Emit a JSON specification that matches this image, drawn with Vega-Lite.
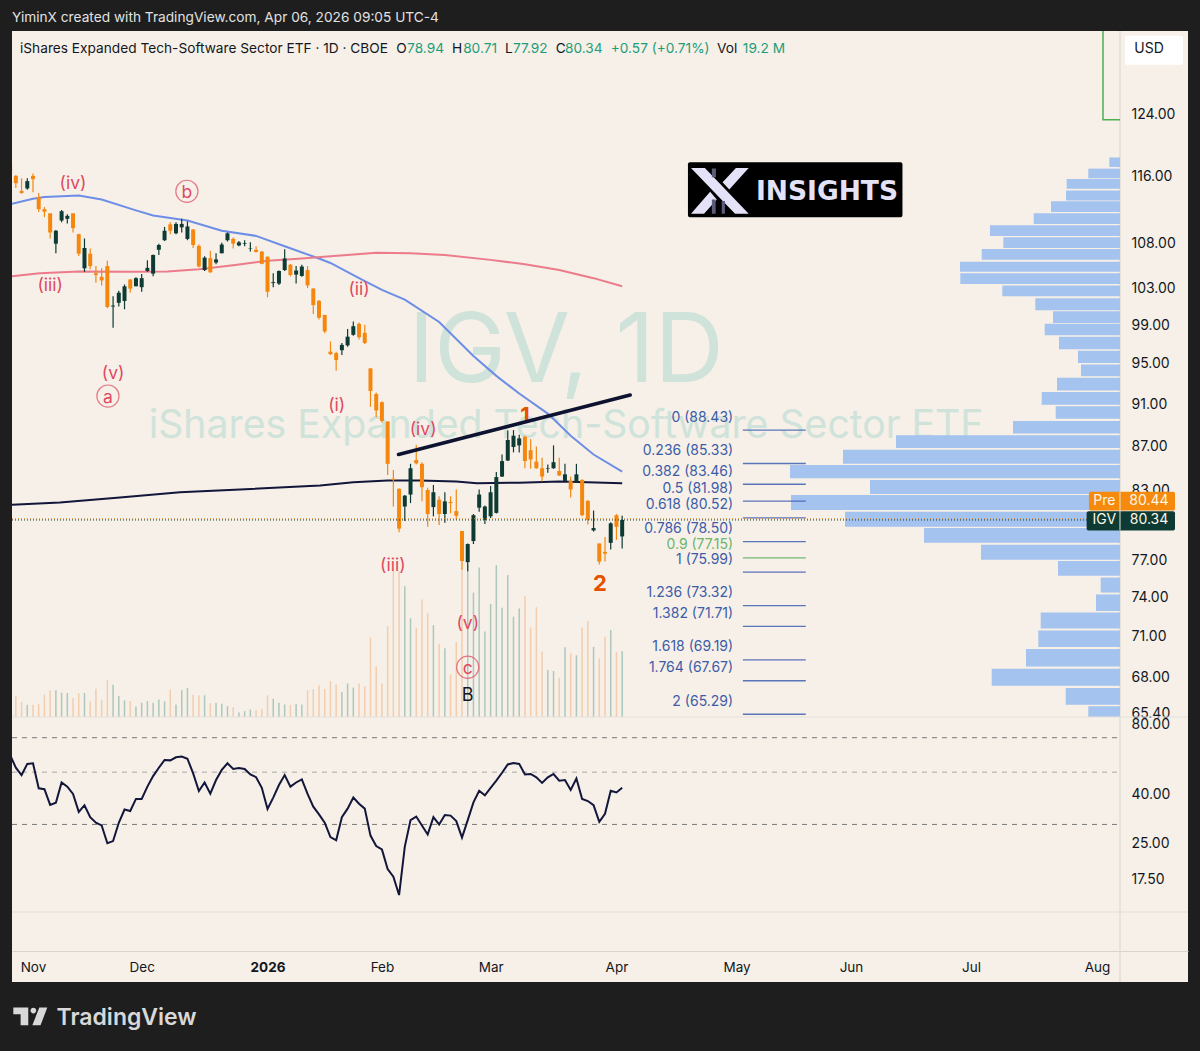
{
  "$schema": "https://vega.github.io/schema/vega-lite/v6.json",
  "description": "IGV daily chart with wave counts, fib levels, volume profile and RSI",
  "width": 1176,
  "height": 951,
  "autosize": {"type": "none"},
  "padding": {"left": 12, "top": 31, "right": 12, "bottom": 69},
  "background": "#1e1e1e",
  "view": {"fill": "#f6f0e8", "stroke": null},
  "title": {"text": "YiminX created with TradingView.com, Apr 06, 2026 09:05 UTC-4", "anchor": "start", "frame": "group", "offset": 6, "color": "#e2e2e2", "font": "Inter", "fontSize": 13.7, "fontWeight": 400},
  "datasets": {
    "bars": [
      {"bar":-4,"open":117.4,"high":117.5,"low":116.4,"close":116.5,"vol":5,"rsi":59.1},
      {"bar":-3,"open":116.0,"high":116.1,"low":114.5,"close":115.1,"vol":6.2,"rsi":52.2},
      {"bar":-2,"open":114.15,"high":115.7,"low":113.8,"close":113.9,"vol":4.4,"rsi":48.6},
      {"bar":-1,"open":114.45,"high":115.7,"low":114.3,"close":115.35,"vol":3.6,"rsi":54.2},
      {"bar":0,"open":116.0,"high":116.3,"low":114.0,"close":115.6,"vol":3.6,"rsi":54.5},
      {"bar":1,"open":113.4,"high":113.9,"low":111.6,"close":111.95,"vol":3.9,"rsi":42.7},
      {"bar":2,"open":111.95,"high":112.2,"low":111.0,"close":111.65,"vol":6.6,"rsi":42.3},
      {"bar":3,"open":111.45,"high":111.45,"low":108.5,"close":109.2,"vol":7.8,"rsi":36.3},
      {"bar":4,"open":107.9,"high":109.5,"low":106.8,"close":109.4,"vol":7.9,"rsi":37.1},
      {"bar":5,"open":110.6,"high":111.85,"low":110.4,"close":111.7,"vol":7.2,"rsi":45.2},
      {"bar":6,"open":110.8,"high":111.35,"low":110.25,"close":111.15,"vol":7.1,"rsi":43.4},
      {"bar":7,"open":111.45,"high":111.45,"low":109.2,"close":109.7,"vol":5.6,"rsi":40.4},
      {"bar":8,"open":109.0,"high":109.05,"low":106.5,"close":106.75,"vol":7,"rsi":33.9},
      {"bar":9,"open":105.1,"high":108.5,"low":104.7,"close":107.4,"vol":7.1,"rsi":36.2},
      {"bar":10,"open":106.75,"high":107.35,"low":105.0,"close":105.35,"vol":4.6,"rsi":32.2},
      {"bar":11,"open":104.55,"high":105.35,"low":103.5,"close":104.35,"vol":8.3,"rsi":30.5},
      {"bar":12,"open":104.15,"high":105.1,"low":103.2,"close":103.75,"vol":5.1,"rsi":29.7},
      {"bar":13,"open":105.35,"high":105.95,"low":100.7,"close":100.85,"vol":11,"rsi":24.95},
      {"bar":14,"open":100.9,"high":102.0,"low":98.65,"close":101.0,"vol":9.5,"rsi":25.5},
      {"bar":15,"open":101.3,"high":102.6,"low":100.9,"close":102.4,"vol":6.2,"rsi":30.5},
      {"bar":16,"open":101.5,"high":103.3,"low":100.6,"close":103.1,"vol":4.9,"rsi":34.7},
      {"bar":17,"open":103.85,"high":103.9,"low":102.4,"close":102.85,"vol":4.7,"rsi":34.2},
      {"bar":18,"open":103.1,"high":104.1,"low":103.1,"close":104.0,"vol":3.1,"rsi":38.5},
      {"bar":19,"open":103.0,"high":104.45,"low":102.5,"close":104.0,"vol":4.2,"rsi":38.5},
      {"bar":20,"open":104.8,"high":106.0,"low":104.7,"close":105.15,"vol":4.7,"rsi":43.4},
      {"bar":21,"open":104.5,"high":106.65,"low":104.2,"close":106.6,"vol":4.2,"rsi":48.1},
      {"bar":22,"open":107.2,"high":107.9,"low":106.6,"close":107.75,"vol":5.2,"rsi":52.2},
      {"bar":23,"open":108.3,"high":109.85,"low":108.2,"close":109.4,"vol":4.6,"rsi":56.3},
      {"bar":24,"open":110.15,"high":110.4,"low":109.0,"close":109.4,"vol":8.1,"rsi":56.1},
      {"bar":25,"open":109.1,"high":110.4,"low":109.0,"close":110.2,"vol":3.7,"rsi":57.8},
      {"bar":26,"open":109.8,"high":110.8,"low":109.2,"close":110.2,"vol":7.9,"rsi":58.2},
      {"bar":27,"open":108.45,"high":110.5,"low":108.3,"close":109.9,"vol":8.6,"rsi":57},
      {"bar":28,"open":109.55,"high":109.6,"low":107.4,"close":107.75,"vol":6.6,"rsi":49.4},
      {"bar":29,"open":107.65,"high":107.8,"low":105.2,"close":105.3,"vol":6.4,"rsi":41.6},
      {"bar":30,"open":104.9,"high":106.45,"low":104.8,"close":106.3,"vol":6.4,"rsi":45.2},
      {"bar":31,"open":106.25,"high":107.1,"low":104.6,"close":104.65,"vol":4.1,"rsi":40.5},
      {"bar":32,"open":105.75,"high":106.8,"low":105.55,"close":106.1,"vol":4.2,"rsi":46.3},
      {"bar":33,"open":106.8,"high":108.0,"low":106.8,"close":107.8,"vol":3.9,"rsi":51.1},
      {"bar":34,"open":108.3,"high":109.2,"low":108.15,"close":109.1,"vol":3.2,"rsi":54.5},
      {"bar":35,"open":108.45,"high":108.6,"low":107.35,"close":107.9,"vol":2.9,"rsi":51.6},
      {"bar":36,"open":107.7,"high":108.2,"low":107.6,"close":108.05,"vol":1.3,"rsi":52.1},
      {"bar":37,"open":107.9,"high":108.3,"low":107.6,"close":107.98,"vol":1.7,"rsi":51.6},
      {"bar":38,"open":107.3,"high":108.05,"low":107.0,"close":107.35,"vol":2.2,"rsi":48.9},
      {"bar":39,"open":107.2,"high":107.6,"low":106.9,"close":106.95,"vol":2,"rsi":47.6},
      {"bar":40,"open":107.0,"high":107.05,"low":105.55,"close":105.6,"vol":2.3,"rsi":42.9},
      {"bar":41,"open":106.4,"high":106.45,"low":101.9,"close":102.5,"vol":6.4,"rsi":34.9},
      {"bar":42,"open":103.45,"high":104.55,"low":103.0,"close":103.55,"vol":5.4,"rsi":39},
      {"bar":43,"open":103.4,"high":104.85,"low":103.25,"close":104.8,"vol":4.2,"rsi":44.1},
      {"bar":44,"open":104.9,"high":107.25,"low":104.8,"close":106.2,"vol":3.7,"rsi":48.6},
      {"bar":45,"open":105.5,"high":105.6,"low":104.2,"close":104.35,"vol":3.6,"rsi":43.4},
      {"bar":46,"open":104.4,"high":105.35,"low":103.4,"close":104.85,"vol":3.9,"rsi":45.2},
      {"bar":47,"open":104.25,"high":105.5,"low":104.15,"close":105.3,"vol":3.7,"rsi":46.6},
      {"bar":48,"open":104.9,"high":105.35,"low":102.9,"close":103.2,"vol":7.9,"rsi":40.4},
      {"bar":49,"open":102.85,"high":102.9,"low":100.1,"close":101.05,"vol":8.2,"rsi":35.7},
      {"bar":50,"open":101.5,"high":101.6,"low":99.5,"close":99.7,"vol":9.3,"rsi":33.1},
      {"bar":51,"open":100.0,"high":100.0,"low":98.05,"close":98.25,"vol":8.3,"rsi":30.5},
      {"bar":52,"open":96.15,"high":97.2,"low":95.8,"close":95.9,"vol":10.6,"rsi":26.5},
      {"bar":53,"open":96.0,"high":96.15,"low":94.2,"close":95.3,"vol":9.6,"rsi":25.7},
      {"bar":54,"open":96.3,"high":97.05,"low":95.8,"close":96.85,"vol":7.4,"rsi":32.2},
      {"bar":55,"open":96.8,"high":98.5,"low":96.65,"close":97.7,"vol":9.9,"rsi":35},
      {"bar":56,"open":97.9,"high":99.3,"low":97.8,"close":98.8,"vol":8.7,"rsi":39},
      {"bar":57,"open":99.05,"high":99.2,"low":97.4,"close":97.65,"vol":9.9,"rsi":36.7},
      {"bar":58,"open":98.1,"high":98.95,"low":96.95,"close":97.05,"vol":9.1,"rsi":35},
      {"bar":59,"open":94.45,"high":94.45,"low":90.65,"close":92.2,"vol":23.4,"rsi":26.9},
      {"bar":60,"open":91.9,"high":92.05,"low":89.65,"close":90.3,"vol":15,"rsi":24.3},
      {"bar":61,"open":91.1,"high":91.2,"low":89.15,"close":89.3,"vol":9.9,"rsi":23.5},
      {"bar":62,"open":89.25,"high":89.25,"low":84.3,"close":85.3,"vol":26.8,"rsi":19.4},
      {"bar":63,"open":83.95,"high":84.75,"low":81.5,"close":83.85,"vol":43.6,"rsi":18},
      {"bar":64,"open":83.05,"high":83.1,"low":79.3,"close":79.6,"vol":43,"rsi":15.05},
      {"bar":65,"open":81.5,"high":82.5,"low":80.25,"close":82.45,"vol":38.6,"rsi":24.15},
      {"bar":66,"open":82.55,"high":85.3,"low":81.8,"close":84.9,"vol":29.1,"rsi":31.3},
      {"bar":67,"open":85.65,"high":87.05,"low":85.25,"close":85.35,"vol":26.3,"rsi":32.4},
      {"bar":68,"open":85.3,"high":85.45,"low":81.95,"close":83.2,"vol":34.7,"rsi":29.7},
      {"bar":69,"open":82.95,"high":83.15,"low":79.75,"close":80.85,"vol":30.6,"rsi":27.2},
      {"bar":70,"open":81.45,"high":83.4,"low":80.65,"close":82.75,"vol":27.1,"rsi":32.2},
      {"bar":71,"open":82.1,"high":82.4,"low":79.9,"close":80.85,"vol":21.6,"rsi":30},
      {"bar":72,"open":80.85,"high":82.75,"low":80.1,"close":81.95,"vol":20.3,"rsi":32.9},
      {"bar":73,"open":81.9,"high":82.4,"low":80.9,"close":81.8,"vol":12.6,"rsi":32.7},
      {"bar":74,"open":81.1,"high":83.0,"low":80.35,"close":80.7,"vol":22.1,"rsi":31},
      {"bar":75,"open":79.4,"high":79.4,"low":76.2,"close":76.9,"vol":44,"rsi":26.4},
      {"bar":76,"open":76.8,"high":78.35,"low":76.05,"close":78.3,"vol":45,"rsi":31.3},
      {"bar":77,"open":78.55,"high":80.85,"low":78.3,"close":80.75,"vol":36.7,"rsi":37.2},
      {"bar":78,"open":81.4,"high":83.0,"low":81.05,"close":82.55,"vol":44.1,"rsi":41.7},
      {"bar":79,"open":80.35,"high":81.6,"low":80.0,"close":81.5,"vol":25.2,"rsi":39.9},
      {"bar":80,"open":80.65,"high":83.3,"low":80.5,"close":82.75,"vol":33.4,"rsi":42.9},
      {"bar":81,"open":80.95,"high":84.55,"low":80.9,"close":84.1,"vol":44.8,"rsi":46},
      {"bar":82,"open":84.15,"high":86.15,"low":84.1,"close":85.55,"vol":32.2,"rsi":49.7},
      {"bar":83,"open":85.6,"high":88.4,"low":85.55,"close":87.5,"vol":41.9,"rsi":53.9},
      {"bar":84,"open":86.85,"high":88.43,"low":86.35,"close":87.9,"vol":29.6,"rsi":54.7},
      {"bar":85,"open":87.0,"high":88.0,"low":86.35,"close":87.65,"vol":32,"rsi":54.2},
      {"bar":86,"open":87.8,"high":87.9,"low":84.9,"close":85.55,"vol":35.7,"rsi":48.9},
      {"bar":87,"open":86.55,"high":87.6,"low":84.85,"close":85.7,"vol":26.4,"rsi":49.1},
      {"bar":88,"open":85.5,"high":86.9,"low":84.85,"close":84.9,"vol":32.4,"rsi":47.5},
      {"bar":89,"open":84.9,"high":85.85,"low":83.7,"close":84.15,"vol":19.3,"rsi":45},
      {"bar":90,"open":84.85,"high":85.25,"low":84.5,"close":84.9,"vol":13.9,"rsi":47.5},
      {"bar":91,"open":84.9,"high":87.0,"low":84.85,"close":85.45,"vol":13.6,"rsi":49.1},
      {"bar":92,"open":84.65,"high":85.85,"low":84.2,"close":84.25,"vol":11.6,"rsi":46},
      {"bar":93,"open":83.75,"high":85.3,"low":83.7,"close":84.35,"vol":20.6,"rsi":46.3},
      {"bar":94,"open":83.75,"high":84.15,"low":82.3,"close":83.0,"vol":18.8,"rsi":42},
      {"bar":95,"open":83.7,"high":85.3,"low":83.6,"close":84.35,"vol":18.2,"rsi":47},
      {"bar":96,"open":83.85,"high":83.9,"low":80.65,"close":80.75,"vol":26.4,"rsi":38.5},
      {"bar":97,"open":82.0,"high":82.05,"low":79.95,"close":80.35,"vol":28.3,"rsi":37.7},
      {"bar":98,"open":79.45,"high":81.15,"low":79.35,"close":79.65,"vol":20.7,"rsi":36.2},
      {"bar":99,"open":78.35,"high":78.35,"low":76.6,"close":76.85,"vol":17.3,"rsi":30.8},
      {"bar":100,"open":77.65,"high":78.9,"low":76.85,"close":77.5,"vol":23.7,"rsi":33.3},
      {"bar":101,"open":78.4,"high":80.15,"low":77.85,"close":80.05,"vol":25.7,"rsi":41.7},
      {"bar":102,"open":80.75,"high":80.85,"low":78.65,"close":79.75,"vol":19.2,"rsi":41},
      {"bar":103,"open":78.94,"high":80.71,"low":77.92,"close":80.34,"vol":19.4,"rsi":42.9}
    ],
    "averages": [
      {"series":"ma50","bar":-3.67,"price":112.6},{"series":"ma50","bar":0,"price":113.2},{"series":"ma50","bar":2,"price":113.4},{"series":"ma50","bar":8,"price":113.6},{"series":"ma50","bar":12,"price":113.1},{"series":"ma50","bar":18,"price":111.8},{"series":"ma50","bar":21,"price":111.2},{"series":"ma50","bar":27,"price":110.6},{"series":"ma50","bar":33,"price":109.4},{"series":"ma50","bar":39,"price":108.8},{"series":"ma50","bar":44,"price":107.6},{"series":"ma50","bar":50,"price":106.2},{"series":"ma50","bar":52,"price":105.7},{"series":"ma50","bar":57,"price":104.0},{"series":"ma50","bar":61,"price":102.7},{"series":"ma50","bar":65,"price":101.65},{"series":"ma50","bar":71,"price":99.25},{"series":"ma50","bar":77,"price":95.7},{"series":"ma50","bar":81,"price":93.7},{"series":"ma50","bar":85,"price":91.95},{"series":"ma50","bar":90,"price":90.0},{"series":"ma50","bar":94,"price":87.9},{"series":"ma50","bar":98,"price":86.15},{"series":"ma50","bar":103,"price":84.6},
      {"series":"ma100","bar":-3.67,"price":104.2},{"series":"ma100","bar":1.2,"price":104.55},{"series":"ma100","bar":8,"price":104.75},{"series":"ma100","bar":17.5,"price":104.7},{"series":"ma100","bar":23.5,"price":104.75},{"series":"ma100","bar":29,"price":105.0},{"series":"ma100","bar":35,"price":105.45},{"series":"ma100","bar":41,"price":105.95},{"series":"ma100","bar":47,"price":106.2},{"series":"ma100","bar":52,"price":106.45},{"series":"ma100","bar":60,"price":106.85},{"series":"ma100","bar":66,"price":106.8},{"series":"ma100","bar":72,"price":106.6},{"series":"ma100","bar":80,"price":106.05},{"series":"ma100","bar":86,"price":105.55},{"series":"ma100","bar":92,"price":104.9},{"series":"ma100","bar":98,"price":104.0},{"series":"ma100","bar":103,"price":103.1},
      {"series":"ma200","bar":-3.67,"price":81.65},{"series":"ma200","bar":4.7,"price":81.85},{"series":"ma200","bar":15.2,"price":82.3},{"series":"ma200","bar":25.7,"price":82.75},{"series":"ma200","bar":36.2,"price":83.0},{"series":"ma200","bar":50.2,"price":83.35},{"series":"ma200","bar":56,"price":83.65},{"series":"ma200","bar":62,"price":83.8},{"series":"ma200","bar":67.6,"price":83.8},{"series":"ma200","bar":74,"price":83.7},{"series":"ma200","bar":77.6,"price":83.55},{"series":"ma200","bar":85,"price":83.6},{"series":"ma200","bar":92,"price":83.7},{"series":"ma200","bar":96.9,"price":83.65},{"series":"ma200","bar":103,"price":83.55}
    ],
    "fib": [
      {"level":0,"price":88.43,"label":"0 (88.43)","bar":124.1,"bar2":135.1,"labelBar":122.4},
      {"level":0.236,"price":85.33,"label":"0.236 (85.33)","bar":124.1,"bar2":135.1,"labelBar":122.4},
      {"level":0.382,"price":83.46,"label":"0.382 (83.46)","bar":124.1,"bar2":135.1,"labelBar":122.4},
      {"level":0.5,"price":81.98,"label":"0.5 (81.98)","bar":124.1,"bar2":135.1,"labelBar":122.4},
      {"level":0.618,"price":80.52,"label":"0.618 (80.52)","bar":124.1,"bar2":135.1,"labelBar":122.4},
      {"level":0.786,"price":78.5,"label":"0.786 (78.50)","bar":124.1,"bar2":135.1,"labelBar":122.4},
      {"level":0.9,"price":77.15,"label":"0.9 (77.15)","bar":124.1,"bar2":135.1,"labelBar":122.4},
      {"level":1,"price":75.99,"label":"1 (75.99)","bar":124.1,"bar2":135.1,"labelBar":122.4},
      {"level":1.236,"price":73.32,"label":"1.236 (73.32)","bar":124.1,"bar2":135.1,"labelBar":122.4},
      {"level":1.382,"price":71.71,"label":"1.382 (71.71)","bar":124.1,"bar2":135.1,"labelBar":122.4},
      {"level":1.618,"price":69.19,"label":"1.618 (69.19)","bar":124.1,"bar2":135.1,"labelBar":122.4},
      {"level":1.764,"price":67.67,"label":"1.764 (67.67)","bar":124.1,"bar2":135.1,"labelBar":122.4},
      {"level":2,"price":65.29,"label":"2 (65.29)","bar":124.1,"bar2":135.1,"labelBar":122.4}
    ],
    "waves": [
      {"label":"(iv)","bar":7,"price":115.15,"circled":false},
      {"label":"(iii)","bar":3,"price":103.35,"circled":false},
      {"label":"b","bar":26.9,"price":114.1,"circled":true},
      {"label":"(v)","bar":14,"price":94.0,"circled":false},
      {"label":"a","bar":13.1,"price":91.7,"circled":true},
      {"label":"(ii)","bar":57,"price":102.9,"circled":false},
      {"label":"(i)","bar":53.1,"price":90.9,"circled":false},
      {"label":"(iv)","bar":68.2,"price":88.55,"circled":false},
      {"label":"(iii)","bar":62.9,"price":76.6,"circled":false},
      {"label":"(v)","bar":76,"price":72.0,"circled":false},
      {"label":"c","bar":76,"price":68.65,"circled":true},
      {"label":")","bar":-4.0,"price":121.05,"circled":false}
    ],
    "legend": [
      {"text":"iShares Expanded Tech-Software Sector ETF · 1D · CBOE","bar":-2.27,"price":133,"kind":"name"},
      {"text":"O","bar":63.5,"price":133,"kind":"name"},
      {"text":"78.94","bar":65.4,"price":133,"kind":"value"},
      {"text":"H","bar":73.25,"price":133,"kind":"name"},
      {"text":"80.71","bar":75.2,"price":133,"kind":"value"},
      {"text":"L","bar":82.5,"price":133,"kind":"name"},
      {"text":"77.92","bar":83.9,"price":133,"kind":"value"},
      {"text":"C","bar":91.4,"price":133,"kind":"name"},
      {"text":"80.34","bar":93,"price":133,"kind":"value"},
      {"text":"+0.57 (+0.71%)","bar":101,"price":133,"kind":"value"},
      {"text":"Vol","bar":119.6,"price":133,"kind":"name"},
      {"text":"19.2 M","bar":124.1,"price":133,"kind":"value"}
    ]
  },
  "encoding": {
    "x": {"field": "bar", "type": "quantitative", "scale": {"domain": [-3.671, 201.92], "padding": 0, "nice": false, "zero": false}, "axis": null}
  },
  "resolve": {
    "scale": {"x": "independent", "y": "independent"},
    "axis": {"x": "independent", "y": "independent"}
  },
  "layer": [
    {
      "data": {"values": [
        {"text":"IGV, 1D","bar":93.2,"price":96.0,"big":true},
        {"text":"iShares Expanded Tech-Software Sector ETF","bar":93.2,"price":88.8,"big":false}
      ]},
      "mark": {"type": "text", "font": "Inter", "color": "#cfe3da", "align": "center", "baseline": "middle"},
      "encoding": {
        "y": {
          "field": "price", "type": "quantitative",
          "scale": {"type": "log", "domain": [65.1, 135.4], "range": [686, 0], "nice": false, "zero": false},
          "axis": {
            "orient": "right", "offset": -68,
            "values": [124, 116, 108, 103, 99, 95, 91, 87, 83, 77, 74, 71, 68, 65.4],
            "format": ".2f", "ticks": false, "grid": false, "domain": false, "title": null,
            "labelFont": "Inter", "labelFontSize": 14, "labelColor": "#131722", "labelPadding": 11, "labelOffset": 1,
            "labelOverlap": false, "labelBound": false, "labelFlush": false
          }
        },
        "text": {"field": "text"},
        "size": {"condition": {"test": "datum.big", "value": 96}, "value": 39.2}
      }
    },
    {
      "data": {"values": [{"bar": 190.03}]},
      "mark": {"type": "rule", "color": "#d9d5ce", "strokeWidth": 1},
      "encoding": {
        "x": {
          "field": "bar", "type": "quantitative",
          "scale": {"domain": [-3.671, 201.92], "padding": 0, "nice": false, "zero": false},
          "axis": {
            "orient": "bottom", "offset": -31,
            "values": [0, 19, 41, 61, 80, 102, 123, 143, 164, 186],
            "labelExpr": "{'0':'Nov','19':'Dec','41':'2026','61':'Feb','80':'Mar','102':'Apr','123':'May','143':'Jun','164':'Jul','186':'Aug'}[datum.value]",
            "labelFontWeight": {"condition": {"test": "datum.value == 41", "value": 700}, "value": 400},
            "labelFont": "Inter", "labelFontSize": 13.5, "labelColor": "#131722", "labelPadding": 9,
            "labelFlush": false, "labelOverlap": false, "labelBound": false,
            "ticks": false, "grid": false, "domainColor": "#d9d5ce",
            "title": "TradingView", "titleColor": "#d8d8d8", "titleFont": "Inter", "titleFontSize": 23, "titleFontWeight": 600,
            "titleAlign": "left", "titleAnchor": "start", "titleBaseline": "middle", "titleX": 44, "titleY": 66
          }
        }
      }
    },
    {
      "data": {"values": [
        {"vol":10.7,"high":118.3,"low":117.1},{"vol":31.7,"high":116.9,"low":115.7},{"vol":53.3,"high":115.6,"low":114.4},{"vol":54,"high":114.2,"low":113.0},{"vol":69,"high":112.9,"low":111.6},{"vol":86.3,"high":111.45,"low":110.2},{"vol":130,"high":110.05,"low":108.8},{"vol":116.7,"high":108.65,"low":107.4},{"vol":138.3,"high":107.3,"low":106.05},{"vol":160,"high":105.85,"low":104.7},{"vol":159.7,"high":104.55,"low":103.35},{"vol":117.7,"high":103.2,"low":102.0},{"vol":84.7,"high":101.8,"low":100.5},{"vol":67,"high":100.4,"low":99.15},{"vol":75.3,"high":99.05,"low":97.85},{"vol":61,"high":97.7,"low":96.4},{"vol":42,"high":96.25,"low":95.0},{"vol":39,"high":94.85,"low":93.65},{"vol":63,"high":93.5,"low":92.25},{"vol":78.3,"high":92.1,"low":90.85},{"vol":64.3,"high":90.7,"low":89.5},{"vol":107,"high":89.3,"low":88.1},{"vol":224,"high":87.95,"low":86.75},{"vol":277,"high":86.6,"low":85.3},{"vol":330,"high":85.2,"low":84.0},{"vol":250,"high":83.85,"low":82.6},{"vol":329,"high":82.5,"low":81.2},{"vol":275,"high":81.05,"low":79.75},{"vol":196,"high":79.65,"low":78.4},{"vol":139,"high":78.25,"low":77.0},{"vol":62,"high":76.9,"low":75.7},{"vol":19.3,"high":75.55,"low":74.35},{"vol":24,"high":74.2,"low":72.9},{"vol":79.3,"high":72.78,"low":71.55},{"vol":81.7,"high":71.4,"low":70.15},{"vol":94,"high":70.0,"low":68.7},{"vol":128.3,"high":68.55,"low":67.3},{"vol":54.3,"high":67.15,"low":65.95},{"vol":31.7,"high":65.85,"low":65.1}
      ]},
      "mark": {"type": "rect", "color": "#a5c3ef", "clip": true},
      "encoding": {
        "x": {"field": "vol", "type": "quantitative", "scale": {"domain": [0, 1108], "range": [1108, 0], "padding": 0, "nice": false, "zero": false}, "axis": null},
        "x2": {"datum": 0},
        "y": {"field": "high", "type": "quantitative", "scale": {"type": "log", "domain": [65.1, 135.4], "range": [686, 0], "nice": false, "zero": false}, "axis": null},
        "y2": {"field": "low"}
      }
    },
    {
      "data": {"name": "bars"},
      "mark": {"type": "rule", "strokeWidth": 1.5, "clip": true},
      "encoding": {
        "y": {"field": "vol", "type": "quantitative", "scale": {"domain": [0, 202.4], "range": [686, 0], "nice": false, "zero": false}, "axis": null},
        "y2": {"datum": 0},
        "color": {"condition": {"test": "datum.close >= datum.open", "value": "#adc7bc"}, "value": "#f2cdae"}
      }
    },
    {
      "layer": [
        {
          "data": {"name": "fib"},
          "mark": {"type": "rule", "strokeWidth": 1.3, "opacity": 0.85},
          "encoding": {
            "x2": {"field": "bar2"},
            "y": {"field": "price", "type": "quantitative", "scale": {"type": "log", "domain": [65.1, 135.4], "range": [686, 0], "nice": false, "zero": false}, "axis": null},
            "color": {"condition": {"test": "datum.level == 0.9", "value": "#5fae5f"}, "value": "#3f5fb0"}
          }
        },
        {
          "data": {"name": "fib"},
          "mark": {"type": "text", "font": "Inter", "fontSize": 14, "align": "right", "baseline": "middle", "dy": -12.5},
          "encoding": {
            "x": {"field": "labelBar", "type": "quantitative", "scale": {"domain": [-3.671, 201.92], "padding": 0, "nice": false, "zero": false}, "axis": null},
            "y": {"field": "price", "type": "quantitative", "axis": null},
            "text": {"field": "label"},
            "color": {"condition": {"test": "datum.level == 0.9", "value": "#6cb56c"}, "value": "#3d5ca8"}
          }
        },
        {
          "data": {"name": "averages"},
          "mark": {"type": "line", "strokeWidth": 2, "clip": true},
          "encoding": {
            "y": {"field": "price", "type": "quantitative", "axis": null},
            "color": {"field": "series", "type": "nominal", "legend": null, "scale": {"domain": ["ma50", "ma100", "ma200"], "range": ["#6d8ee6", "#ec7b8b", "#12163a"]}}
          }
        },
        {
          "data": {"name": "bars"},
          "mark": {"type": "rule", "strokeWidth": 1.2, "clip": true},
          "encoding": {
            "y": {"field": "low", "type": "quantitative", "axis": null},
            "y2": {"field": "high"},
            "color": {"condition": {"test": "datum.close >= datum.open", "value": "#0d3b33"}, "value": "#f5870f"}
          }
        },
        {
          "data": {"name": "bars"},
          "mark": {"type": "bar", "size": 4, "clip": true},
          "encoding": {
            "y": {"field": "open", "type": "quantitative", "axis": null},
            "y2": {"field": "close"},
            "color": {"condition": {"test": "datum.close >= datum.open", "value": "#0d3b33"}, "value": "#f5870f"}
          }
        },
        {
          "data": {"values": [{"label":"B","bar":76,"price":66.6}]},
          "mark": {"type": "text", "font": "Inter", "fontSize": 18, "color": "#131722", "align": "center", "baseline": "middle"},
          "encoding": {
            "y": {"field": "price", "type": "quantitative", "axis": null},
            "text": {"field": "label"}
          }
        },
        {
          "data": {"values": [{"label":"1","bar":86,"price":89.8},{"label":"2","bar":99.1,"price":75.0}]},
          "mark": {"type": "text", "font": "Inter", "fontSize": 22, "fontWeight": 700, "color": "#e65100", "align": "center", "baseline": "middle"},
          "encoding": {
            "y": {"field": "price", "type": "quantitative", "axis": null},
            "text": {"field": "label"}
          }
        },
        {
          "data": {"values": [{"bar":63.9,"price":86.15},{"bar":104.4,"price":91.8}]},
          "mark": {"type": "line", "strokeWidth": 3.5, "strokeCap": "round", "color": "#0d1230"},
          "encoding": {"y": {"field": "price", "type": "quantitative", "axis": null}}
        },
        {
          "data": {"values": [{"seq":1,"bar":187.06,"price":140},{"seq":2,"bar":187.06,"price":123.15},{"seq":3,"bar":190.03,"price":123.15}]},
          "mark": {"type": "line", "strokeWidth": 1.5, "color": "#4caf50", "clip": true},
          "encoding": {
            "y": {"field": "price", "type": "quantitative", "axis": null},
            "order": {"field": "seq"}
          }
        },
        {
          "data": {"values": [{"name":"pre","price":80.44,"bar":-3.671,"bar2":185},{"name":"last","price":80.34,"bar":-3.671,"bar2":185}]},
          "mark": {"type": "rule", "strokeWidth": 1, "strokeDash": [1, 2]},
          "encoding": {
            "x2": {"field": "bar2"},
            "y": {"field": "price", "type": "quantitative", "axis": null},
            "color": {"condition": {"test": "datum.name == 'pre'", "value": "#f5870f"}, "value": "#0d3b33"}
          }
        },
        {
          "data": {"name": "waves"},
          "transform": [{"filter": "datum.circled"}],
          "mark": {"type": "point", "shape": "circle", "size": 490, "color": "#e0485f", "strokeWidth": 1.2, "filled": false},
          "encoding": {"y": {"field": "price", "type": "quantitative", "axis": null}}
        },
        {
          "data": {"name": "waves"},
          "mark": {"type": "text", "font": "Inter", "fontSize": 17.5, "color": "#e0485f", "align": "center", "baseline": "middle", "dy": 1.5, "clip": true},
          "encoding": {
            "y": {"field": "price", "type": "quantitative", "axis": null},
            "text": {"field": "label"}
          }
        },
        {
          "data": {"name": "legend"},
          "mark": {"type": "text", "font": "Inter", "fontSize": 13.7, "align": "left", "baseline": "middle", "dy": 1},
          "encoding": {
            "y": {"field": "price", "type": "quantitative", "axis": null},
            "text": {"field": "text"},
            "color": {"condition": {"test": "datum.kind == 'value'", "value": "#1f9d7a"}, "value": "#131722"}
          }
        },
        {
          "data": {"values": [
            {"bar":114.5,"bar2":152,"high":117.7,"low":111.0,"part":"logo"},
            {"bar":190.9,"bar2":201.05,"high":134.7,"low":130.6,"part":"usd"},
            {"bar":184.6,"bar2":199.65,"high":82.8,"low":81.15,"part":"pre"},
            {"bar":184.2,"bar2":199.65,"high":81.1,"low":79.45,"part":"last"}
          ]},
          "mark": {"type": "rect", "cornerRadius": 2},
          "encoding": {
            "x2": {"field": "bar2"},
            "y": {"field": "high", "type": "quantitative", "axis": null},
            "y2": {"field": "low"},
            "color": {"condition": [
              {"test": "datum.part == 'logo'", "value": "#000000"},
              {"test": "datum.part == 'usd'", "value": "#ffffff"},
              {"test": "datum.part == 'pre'", "value": "#f58a0c"}
            ], "value": "#0d3b33"}
          }
        },
        {
          "data": {"values": [{"bar":190.03,"high":82.8,"low":79.45}]},
          "mark": {"type": "rule", "color": "#e9e6df", "strokeWidth": 1},
          "encoding": {
            "y": {"field": "high", "type": "quantitative", "axis": null},
            "y2": {"field": "low"}
          }
        },
        {
          "data": {"values": [{"bar":120.1,"price":114.15}]},
          "mark": {"type": "point", "filled": true, "opacity": 1, "size": 3364, "color": "#e4e2f8", "shape": "M-1,-.79L-.52,-.79L.99,.79L.52,.79ZM.99,-.79L.55,-.79L.09,-.3L.32,-.05ZM-1,.79L-.55,.79L-.11,.3L-.34,.03Z"},
          "encoding": {"y": {"field": "price", "type": "quantitative", "axis": null}}
        },
        {
          "data": {"values": [{"bar":120.1,"price":114.15}]},
          "mark": {"type": "point", "filled": true, "opacity": 1, "size": 3364, "color": "#5a5c7c", "shape": "M-.28,-.77L-.14,-.77L-.14,-.47L-.28,-.47ZM-.28,.3L-.15,.3L-.15,.79L-.28,.79ZM.06,.35L.17,.35L.17,.79L.06,.79Z"},
          "encoding": {"y": {"field": "price", "type": "quantitative", "axis": null}}
        },
        {
          "data": {"values": [{"bar":-0.47,"price":47.3}]},
          "mark": {"type": "point", "filled": true, "opacity": 1, "size": 1156, "color": "#d8d8d8", "shape": "M-1,-.51L-.12,-.51L-.12,.53L-.57,.53L-.57,-.12L-1,-.12ZM.01,-.33a.17,.17 0 1 0 .34,0a.17,.17 0 1 0 -.34,0ZM.53,-.51L1,-.51L.6,.53L.12,.53Z"},
          "encoding": {"y": {"field": "price", "type": "quantitative", "axis": null}}
        },
        {
          "data": {"values": [{"text":"INSIGHTS","bar":138.8,"price":114.0}]},
          "mark": {"type": "text", "font": "DejaVu Sans", "fontSize": 26.5, "fontWeight": 700, "color": "#e4e2f8", "align": "center", "baseline": "middle"},
          "encoding": {
            "y": {"field": "price", "type": "quantitative", "axis": null},
            "text": {"field": "text"}
          }
        },
        {
          "data": {"values": [
            {"text":"USD","bar":195.1,"price":132.8,"part":"tag"},
            {"text":"Pre","bar":187.3,"price":81.95,"part":"box"},
            {"text":"80.44","bar":195.1,"price":81.95,"part":"box"},
            {"text":"IGV","bar":187.3,"price":80.3,"part":"box"},
            {"text":"80.34","bar":195.1,"price":80.3,"part":"box"}
          ]},
          "mark": {"type": "text", "font": "Inter", "fontSize": 14, "align": "center", "baseline": "middle"},
          "encoding": {
            "y": {"field": "price", "type": "quantitative", "axis": null},
            "text": {"field": "text"},
            "color": {"condition": {"test": "datum.part == 'tag'", "value": "#131722"}, "value": "#fdf6ea"}
          }
        }
      ]
    },
    {
      "data": {"values": [{"rsi":85.7,"bar":-3.671,"bar2":201.92},{"rsi":12.75,"bar":-3.671,"bar2":201.92}]},
      "mark": {"type": "rule", "color": "#e4e0d9", "strokeWidth": 1},
      "encoding": {
        "x2": {"field": "bar2"},
        "y": {
          "field": "rsi", "type": "quantitative",
          "scale": {"type": "log", "domain": [12.75, 85.7], "range": [881, 686], "nice": false, "zero": false},
          "axis": {
            "orient": "right", "offset": -68,
            "values": [80, 40, 25, 17.5],
            "format": ".2f", "ticks": false, "grid": false, "domain": false, "title": null,
            "labelFont": "Inter", "labelFontSize": 14, "labelColor": "#131722", "labelPadding": 11,
            "labelOverlap": false, "labelBound": false, "labelFlush": false
          }
        }
      }
    },
    {
      "layer": [
        {
          "data": {"values": [{"rsi":70,"bar":-3.671,"bar2":190.03},{"rsi":50,"bar":-3.671,"bar2":190.03},{"rsi":30,"bar":-3.671,"bar2":190.03}]},
          "mark": {"type": "rule", "strokeWidth": 1, "strokeDash": [5, 5], "color": "#777777"},
          "encoding": {
            "x2": {"field": "bar2"},
            "y": {"field": "rsi", "type": "quantitative", "scale": {"type": "log", "domain": [12.75, 85.7], "range": [881, 686], "nice": false, "zero": false}, "axis": null},
            "opacity": {"condition": {"test": "datum.rsi == 50", "value": 0.6}, "value": 1}
          }
        },
        {
          "data": {"name": "bars"},
          "mark": {"type": "line", "strokeWidth": 2, "color": "#12163a", "clip": true},
          "encoding": {"y": {"field": "rsi", "type": "quantitative", "axis": null}}
        }
      ]
    }
  ]
}
